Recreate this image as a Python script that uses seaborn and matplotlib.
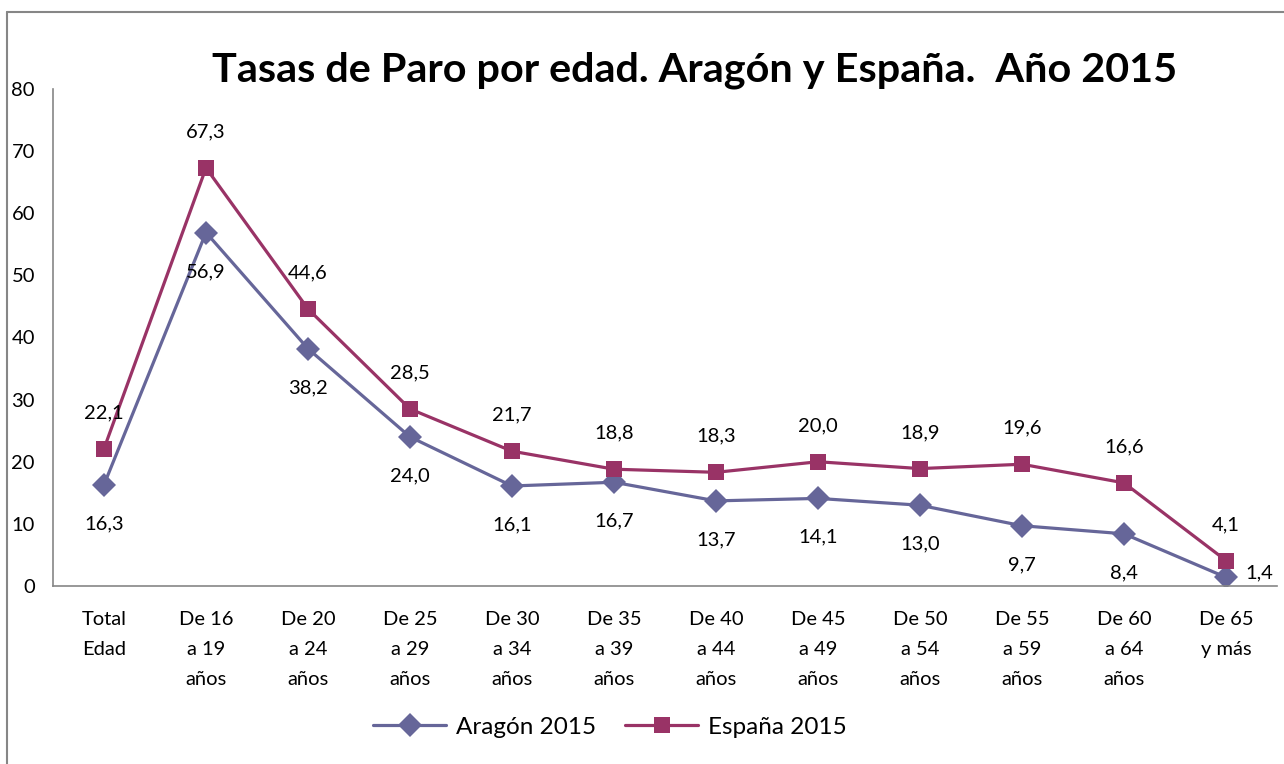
import pandas as pd
import numpy as np
import matplotlib.pyplot as plt
import seaborn as sns
from matplotlib.lines import Line2D

# datos
categorias = ['Total\nEdad', 'De 16\na 19\naños', 'De 20\na 24\naños', 'De 25\na 29\naños',
              'De 30\na 34\naños', 'De 35\na 39\naños', 'De 40\na 44\naños', 'De 45\na 49\naños',
              'De 50\na 54\naños', 'De 55\na 59\naños', 'De 60\na 64\naños', 'De 65\ny más']
aragon = [16.3, 56.9, 38.2, 24.0, 16.1, 16.7, 13.7, 14.1, 13.0, 9.7, 8.4, 1.4]
espana = [22.1, 67.3, 44.6, 28.5, 21.7, 18.8, 18.3, 20.0, 18.9, 19.6, 16.6, 4.1]
series = ['Aragón 2015', 'España 2015']
colores = {'Aragón 2015': '#666699', 'España 2015': '#993366'}
marcadores = {'Aragón 2015': 'D', 'España 2015': 's'}

df = pd.DataFrame({
    'pos': list(range(len(categorias))) * 2,
    'valor': aragon + espana,
    'serie': [series[0]] * len(aragon) + [series[1]] * len(espana),
})

sns.set_style('white')
plt.rcParams['font.family'] = ['Lato', 'DejaVu Sans']
plt.rcParams['text.color'] = 'black'
plt.rcParams['xtick.color'] = 'black'
plt.rcParams['ytick.color'] = 'black'

fig = plt.figure(figsize=(12.84, 7.64), dpi=100)
ax = fig.add_axes([53 / 1284, 1 - 586 / 764, (1277 - 53) / 1284, (586 - 89) / 764])

sns.lineplot(data=df, x='pos', y='valor', hue='serie', style='serie',
             palette=colores, markers=marcadores, dashes=False,
             linewidth=2.3, markersize=12, markeredgewidth=0, legend=False, ax=ax)

# etiquetas de datos
fs = 14.5
for i, v in enumerate(espana):
    ax.annotate(f'{v:.1f}'.replace('.', ','), (i, v), xytext=(0, 26), textcoords='offset points',
                ha='center', va='center', fontsize=fs)
for i, v in enumerate(aragon):
    if i == len(aragon) - 1:
        ax.annotate(f'{v:.1f}'.replace('.', ','), (i, v), xytext=(24, 3), textcoords='offset points',
                    ha='center', va='center', fontsize=fs)
    else:
        ax.annotate(f'{v:.1f}'.replace('.', ','), (i, v), xytext=(0, -28), textcoords='offset points',
                    ha='center', va='center', fontsize=fs)

ax.set_xlim(-0.5, len(categorias) - 0.5)
ax.set_ylim(0, 80)
ax.set_yticks(range(0, 81, 10))
ax.set_xticks(np.arange(-0.5, len(categorias), 1.0))
ax.set_xticklabels([])
ax.tick_params(axis='x', length=7, color='#868686', width=1.2, direction='out')
ax.tick_params(axis='y', length=9, color='#868686', width=1.2, direction='out', labelsize=fs, pad=4)
for i, c in enumerate(categorias):
    ax.text(i, -4.0, c, ha='center', va='top', fontsize=fs, linespacing=1.95,
            transform=ax.transData)
ax.set_xlabel('')
ax.set_ylabel('')
for s in ['top', 'right']:
    ax.spines[s].set_visible(False)
for s in ['left', 'bottom']:
    ax.spines[s].set_color('#868686')
    ax.spines[s].set_linewidth(1.2)

fig.suptitle('Tasas de Paro por edad. Aragón y España.  Año 2015', x=695 / 1284, y=1 - 70 / 764,
             va='center', fontsize=29.8, fontweight='bold')

handles = [Line2D([], [], color=colores[s], marker=marcadores[s], markersize=12, linewidth=2.3,
                  markeredgewidth=0) for s in series]
fig.legend(handles, series, loc='center', bbox_to_anchor=(610 / 1284, 1 - 727 / 764), ncol=2,
           frameon=False, fontsize=17.5, handlelength=3, columnspacing=1.2, handletextpad=0.4)

# marco exterior
fig.add_artist(Line2D([7 / 1284, 7 / 1284], [0, 1 - 12 / 764], transform=fig.transFigure,
                      color='#868686', linewidth=1.5))
fig.add_artist(Line2D([7 / 1284, 1], [1 - 12 / 764, 1 - 12 / 764], transform=fig.transFigure,
                      color='#868686', linewidth=1.5))

fig.savefig('out.png', dpi=100)
